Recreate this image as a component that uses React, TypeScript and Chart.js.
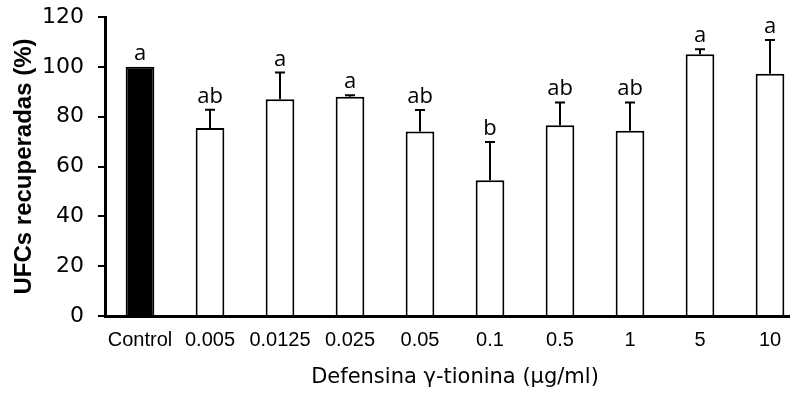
import React, { useEffect, useRef } from "react";
import { Chart, registerables } from "chart.js";

Chart.register(...registerables);

const categories = ["Control", "0.005", "0.0125", "0.025", "0.05", "0.1", "0.5", "1", "5", "10"];
const values = [100, 75.5, 87.0, 88.0, 74.0, 54.5, 76.6, 74.3, 105.1, 97.2];
const errors = [0, 7.3, 10.7, 0.6, 8.7, 15.3, 9.1, 11.4, 2.0, 13.6];
const letters = ["a", "ab", "a", "a", "ab", "b", "ab", "ab", "a", "a"];
const yTicks = [0, 20, 40, 60, 80, 100, 120];
const yTitle = "UFCs recuperadas (%)";
const xTitle = "Defensina γ-tionina (µg/ml)";

const fillColors = categories.map((_, i) => (i === 0 ? "#000000" : "#ffffff"));

const errorPlugin = {
  id: "errorBarsLetters",
  afterDatasetsDraw(chart: any) {
    const { ctx } = chart;
    const meta = chart.getDatasetMeta(0);
    const yScale = chart.scales.y;
    ctx.save();
    meta.data.forEach((bar: any, i: number) => {
      const x = bar.x;
      const yTop = yScale.getPixelForValue(values[i]);
      const yErr = yScale.getPixelForValue(values[i] + errors[i]);
      if (errors[i] > 0) {
        ctx.strokeStyle = "#000";
        ctx.lineWidth = 2;
        ctx.beginPath();
        ctx.moveTo(x, yTop);
        ctx.lineTo(x, yErr);
        ctx.moveTo(x - 5, yErr);
        ctx.lineTo(x + 5, yErr);
        ctx.stroke();
      }
      ctx.fillStyle = "#000";
      ctx.font = "22px 'Open Sans'";
      ctx.textAlign = "center";
      ctx.textBaseline = "alphabetic";
      ctx.fillText(letters[i], x, yErr - 7);
    });
    ctx.restore();
  },
};

export default function App() {
  const ref = useRef<HTMLCanvasElement>(null);
  useEffect(() => {
    if (!ref.current) return;
    const chart = new Chart(ref.current, {
      type: "bar",
      data: {
        labels: categories,
        datasets: [
          {
            data: values,
            backgroundColor: fillColors,
            borderColor: "#000",
            borderWidth: 2,
            barPercentage: 0.41,
            categoryPercentage: 1,
          },
        ],
      },
      plugins: [errorPlugin],
      options: {
        responsive: false,
        animation: false,
        devicePixelRatio: 1,
        layout: { padding: { top: 17, left: 0, right: 0, bottom: 0 } },
        plugins: { legend: { display: false }, tooltip: { enabled: false } },
        scales: {
          x: {
            grid: { display: false, drawTicks: false },
            border: { display: true, color: "#000", width: 3 },
            ticks: {
              color: "#000",
              font: { family: "'Liberation Sans', Arial", size: 20 },
              padding: 12,
              maxRotation: 0,
              autoSkip: false,
            },
            title: {
              display: true,
              text: xTitle,
              color: "#000",
              font: { family: "'DejaVu Sans'", size: 21 },
              padding: { top: 0, bottom: 3 },
            },
            afterFit: (s: any) => {
              s.height = 77;
            },
          },
          y: {
            min: 0,
            max: 120,
            afterBuildTicks: (s: any) => {
              s.ticks = yTicks.map((v) => ({ value: v }));
            },
            grid: {
              drawOnChartArea: false,
              drawTicks: true,
              tickLength: 7,
              color: "#000",
              lineWidth: 2,
            },
            border: { display: true, color: "#000", width: 3 },
            ticks: {
              color: "#000",
              font: { family: "'DejaVu Sans'", size: 22, lineHeight: 0.2 },
              padding: 14,
            },
            title: {
              display: true,
              text: yTitle,
              color: "#000",
              font: { family: "'Liberation Sans', Arial", size: 24, weight: "bold" },
              padding: { top: 10, bottom: 0 },
            },
            afterFit: (s: any) => {
              s.width = 105;
            },
          },
        },
      },
    });
    return () => chart.destroy();
  }, []);
  return (
    <div
      style={{
        position: "fixed",
        left: 0,
        top: 0,
        width: 790,
        height: 393,
        overflow: "hidden",
        background: "#fff",
      }}
    >
      <canvas ref={ref} width={805} height={393} style={{ display: "block" }} />
    </div>
  );
}
